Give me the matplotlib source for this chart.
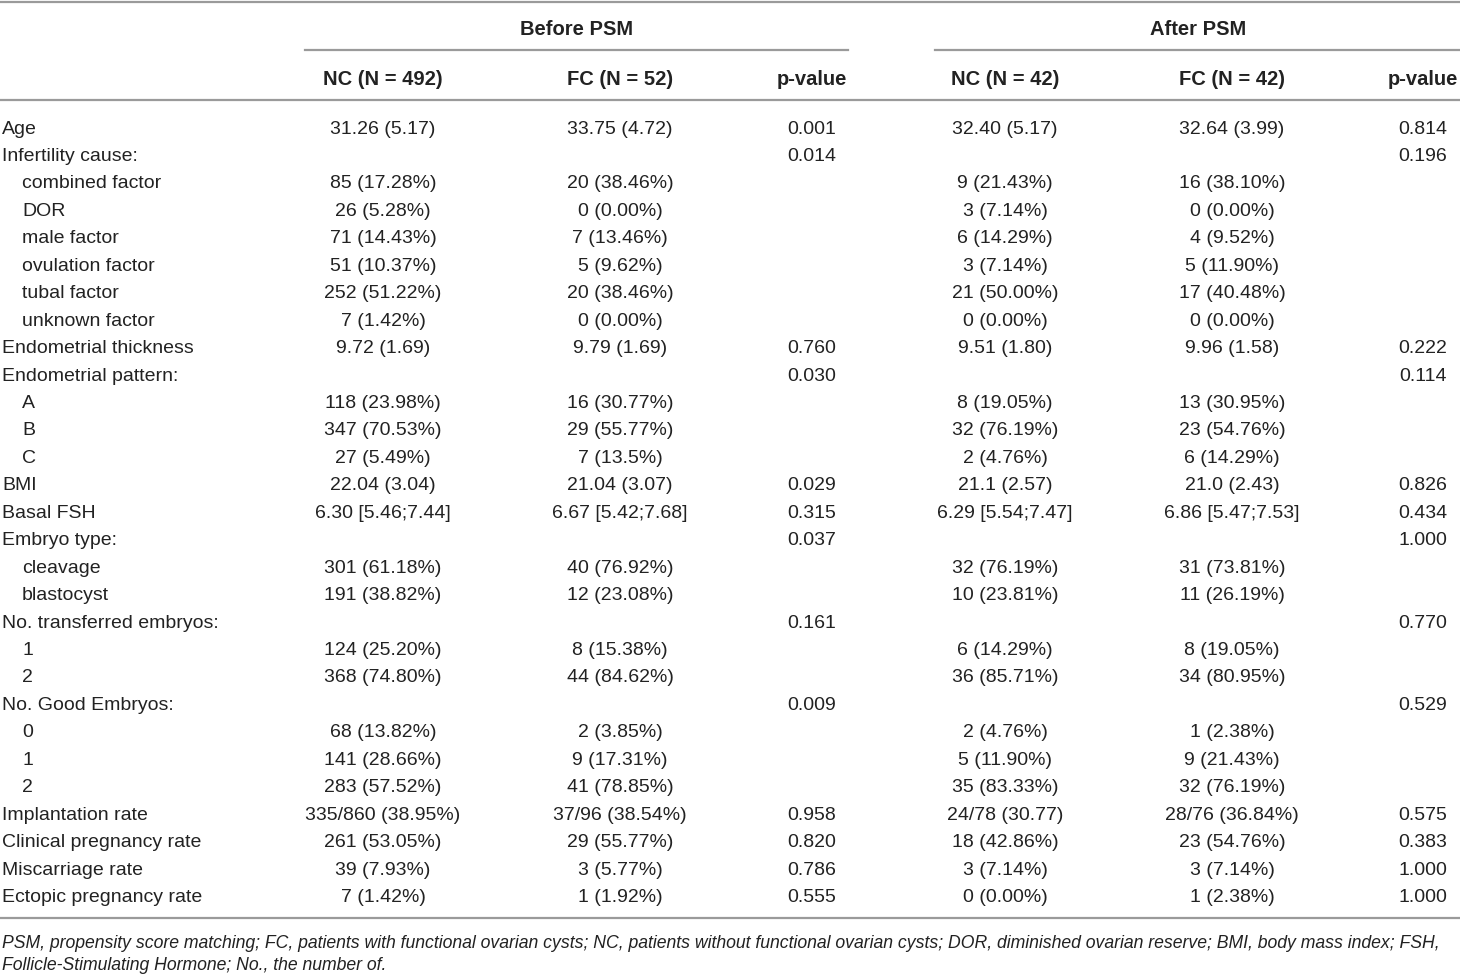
import matplotlib.pyplot as plt

plt.rcParams['font.family'] = ['Liberation Sans', 'DejaVu Sans']

# table contents
group_titles = ['Before PSM', 'After PSM']
col_headers = ['NC (N = 492)', 'FC (N = 52)', 'p-value', 'NC (N = 42)', 'FC (N = 42)', 'p-value']

row_labels = [
    'Age', 'Infertility cause:', 'combined factor', 'DOR', 'male factor',
    'ovulation factor', 'tubal factor', 'unknown factor', 'Endometrial thickness',
    'Endometrial pattern:', 'A', 'B', 'C', 'BMI', 'Basal FSH', 'Embryo type:',
    'cleavage', 'blastocyst', 'No. transferred embryos:', '1', '2',
    'No. Good Embryos:', '0', '1', '2', 'Implantation rate',
    'Clinical pregnancy rate', 'Miscarriage rate', 'Ectopic pregnancy rate',
]
indented = [False, False, True, True, True, True, True, True, False,
            False, True, True, True, False, False, False, True, True, False,
            True, True, False, True, True, True, False, False, False, False]

nc_before = ['31.26 (5.17)', '', '85 (17.28%)', '26 (5.28%)', '71 (14.43%)', '51 (10.37%)',
             '252 (51.22%)', '7 (1.42%)', '9.72 (1.69)', '', '118 (23.98%)', '347 (70.53%)',
             '27 (5.49%)', '22.04 (3.04)', '6.30 [5.46;7.44]', '', '301 (61.18%)',
             '191 (38.82%)', '', '124 (25.20%)', '368 (74.80%)', '', '68 (13.82%)',
             '141 (28.66%)', '283 (57.52%)', '335/860 (38.95%)', '261 (53.05%)',
             '39 (7.93%)', '7 (1.42%)']
fc_before = ['33.75 (4.72)', '', '20 (38.46%)', '0 (0.00%)', '7 (13.46%)', '5 (9.62%)',
             '20 (38.46%)', '0 (0.00%)', '9.79 (1.69)', '', '16 (30.77%)', '29 (55.77%)',
             '7 (13.5%)', '21.04 (3.07)', '6.67 [5.42;7.68]', '', '40 (76.92%)',
             '12 (23.08%)', '', '8 (15.38%)', '44 (84.62%)', '', '2 (3.85%)',
             '9 (17.31%)', '41 (78.85%)', '37/96 (38.54%)', '29 (55.77%)',
             '3 (5.77%)', '1 (1.92%)']
p_before = ['0.001', '0.014', '', '', '', '', '', '', '0.760', '0.030', '', '', '',
            '0.029', '0.315', '0.037', '', '', '0.161', '', '', '0.009', '', '', '',
            '0.958', '0.820', '0.786', '0.555']
nc_after = ['32.40 (5.17)', '', '9 (21.43%)', '3 (7.14%)', '6 (14.29%)', '3 (7.14%)',
            '21 (50.00%)', '0 (0.00%)', '9.51 (1.80)', '', '8 (19.05%)', '32 (76.19%)',
            '2 (4.76%)', '21.1 (2.57)', '6.29 [5.54;7.47]', '', '32 (76.19%)',
            '10 (23.81%)', '', '6 (14.29%)', '36 (85.71%)', '', '2 (4.76%)',
            '5 (11.90%)', '35 (83.33%)', '24/78 (30.77)', '18 (42.86%)',
            '3 (7.14%)', '0 (0.00%)']
fc_after = ['32.64 (3.99)', '', '16 (38.10%)', '0 (0.00%)', '4 (9.52%)', '5 (11.90%)',
            '17 (40.48%)', '0 (0.00%)', '9.96 (1.58)', '', '13 (30.95%)', '23 (54.76%)',
            '6 (14.29%)', '21.0 (2.43)', '6.86 [5.47;7.53]', '', '31 (73.81%)',
            '11 (26.19%)', '', '8 (19.05%)', '34 (80.95%)', '', '1 (2.38%)',
            '9 (21.43%)', '32 (76.19%)', '28/76 (36.84%)', '23 (54.76%)',
            '3 (7.14%)', '1 (2.38%)']
p_after = ['0.814', '0.196', '', '', '', '', '', '', '0.222', '0.114', '', '', '',
           '0.826', '0.434', '1.000', '', '', '0.770', '', '', '0.529', '', '', '',
           '0.575', '0.383', '1.000', '1.000']

footnote = ['PSM, propensity score matching; FC, patients with functional ovarian cysts; '
            'NC, patients without functional ovarian cysts; DOR, diminished ovarian reserve; '
            'BMI, body mass index; FSH,',
            'Follicle-Stimulating Hormone; No., the number of.']

# layout in pixels
W, H = 1460, 976
col_x = [383, 620, 812, 1005, 1232, 1423]
row_y0, row_step = 129, 27.45
fs = 14
line_c = '#9a9a9a'
txt_c = '#222222'

fig = plt.figure(figsize=(W / 100, H / 100), dpi=100)
ax = fig.add_axes([0, 0, 1, 1])
ax.set_xlim(0, W)
ax.set_ylim(H, 0)
ax.axis('off')

# rules
ax.plot([0, W], [1.5, 1.5], color=line_c, lw=1.6)
ax.plot([305, 848], [50, 50], color=line_c, lw=1.6)
ax.plot([935, W], [50, 50], color=line_c, lw=1.6)
ax.plot([0, W], [100, 100], color=line_c, lw=1.6)
ax.plot([0, W], [918, 918], color=line_c, lw=1.6)

# headers
ax.text(577, 29.5, group_titles[0], ha='center', va='center', fontsize=14.5, fontweight='bold', color=txt_c)
ax.text(1198, 29.5, group_titles[1], ha='center', va='center', fontsize=14.5, fontweight='bold', color=txt_c)
for x, h in zip(col_x, col_headers):
    ax.text(x, 79.5, h, ha='center', va='center', fontsize=14.5, fontweight='bold', color=txt_c)

# body
cols = [nc_before, fc_before, p_before, nc_after, fc_after, p_after]
for i, lab in enumerate(row_labels):
    y = row_y0 + i * row_step
    ax.text(22 if indented[i] else 2, y, lab, ha='left', va='center', fontsize=fs, color=txt_c)
    for x, col in zip(col_x, cols):
        if col[i]:
            ax.text(x, y, col[i], ha='center', va='center', fontsize=fs, color=txt_c)

# footnote
ax.text(2, 944, footnote[0], ha='left', va='center', fontsize=12.7, style='italic', color=txt_c)
ax.text(2, 966, footnote[1], ha='left', va='center', fontsize=12.7, style='italic', color=txt_c)

fig.savefig('out.png', dpi=100, facecolor='white')
